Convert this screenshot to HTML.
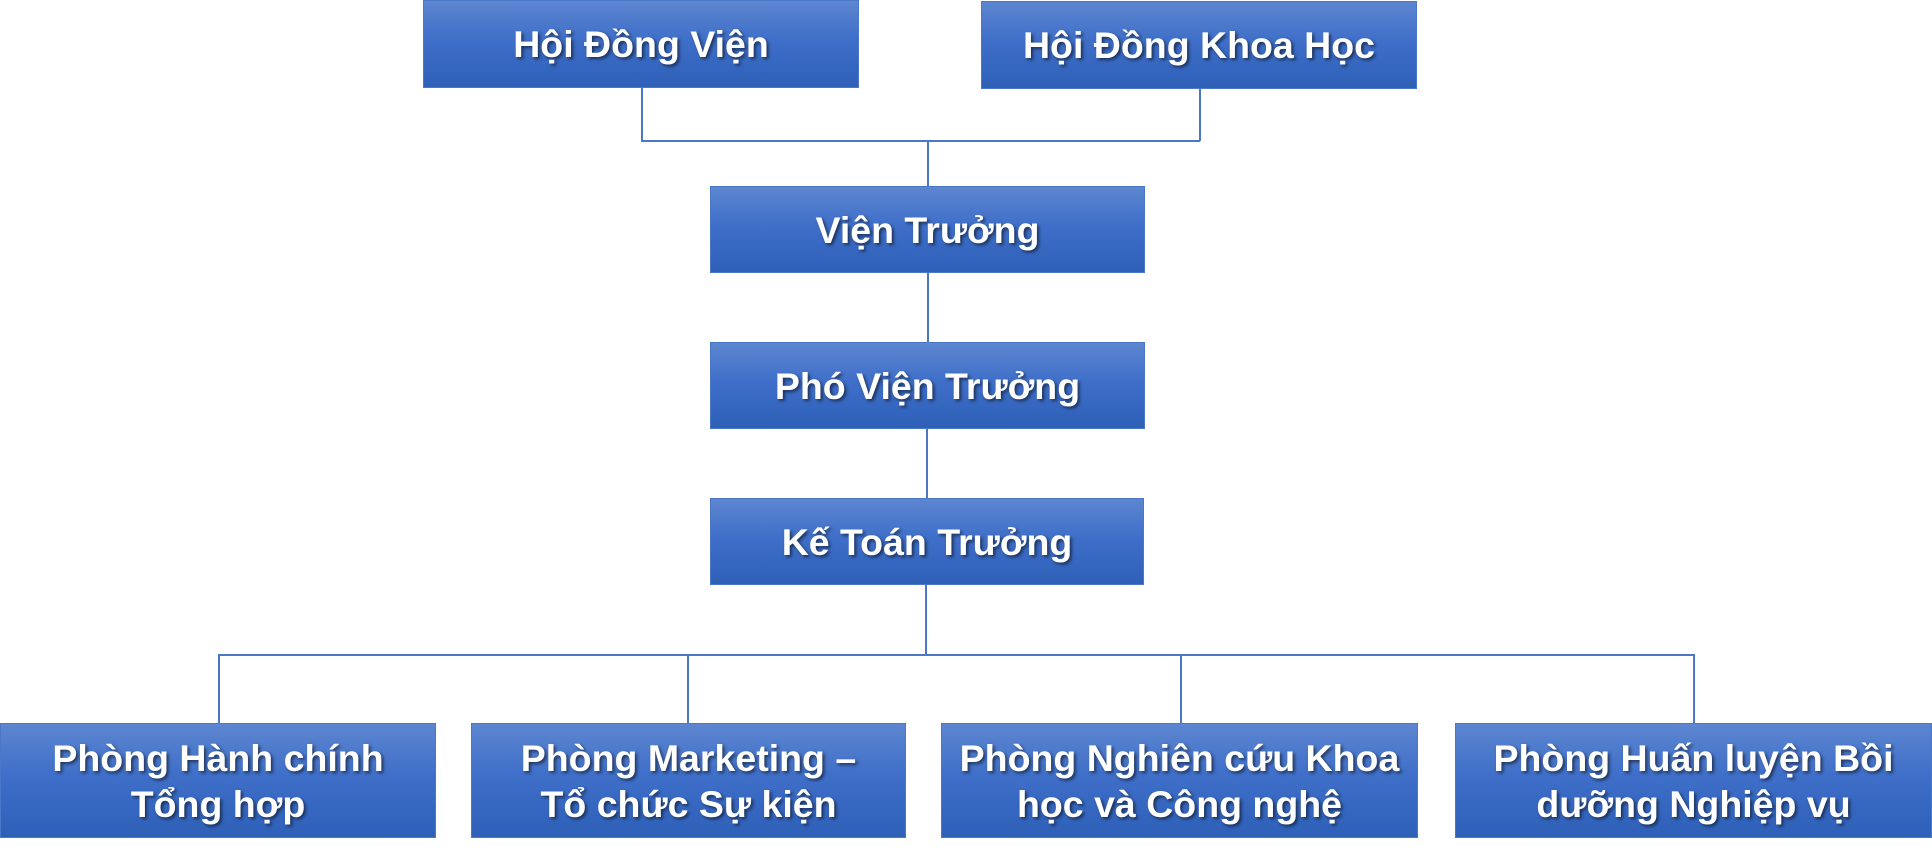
<!DOCTYPE html>
<html><head><meta charset="utf-8"><style>
body{margin:0;width:1932px;height:853px;background:#fff;position:relative;overflow:hidden;font-family:"Liberation Sans",Arial,sans-serif;}
.b{position:absolute;box-sizing:border-box;border:1.5px solid #4a77c8;background:linear-gradient(#5d86d0 0%,#3f6fc9 45%,#2e60b8 100%);color:#fff;font-weight:bold;font-size:37.5px;display:flex;align-items:center;justify-content:center;text-align:center;text-shadow:2px 2px 3px rgba(0,0,0,0.55);line-height:46px;}
.l{position:absolute;background:#4a77c8;}
</style></head><body>
<div class="l" style="left:641px;top:87px;width:1.5px;height:54px"></div>
<div class="l" style="left:1199px;top:89px;width:1.5px;height:52px"></div>
<div class="l" style="left:641px;top:140px;width:559px;height:1.5px"></div>
<div class="l" style="left:927px;top:140px;width:1.5px;height:46px"></div>
<div class="l" style="left:927px;top:272px;width:1.5px;height:70px"></div>
<div class="l" style="left:926px;top:429px;width:1.5px;height:70px"></div>
<div class="l" style="left:925px;top:585px;width:1.5px;height:70px"></div>
<div class="l" style="left:218px;top:654px;width:1476px;height:1.5px"></div>
<div class="l" style="left:218px;top:654px;width:1.5px;height:69px"></div>
<div class="l" style="left:687px;top:654px;width:1.5px;height:69px"></div>
<div class="l" style="left:1180px;top:654px;width:1.5px;height:69px"></div>
<div class="l" style="left:1693px;top:654px;width:1.5px;height:69px"></div>

<div class="b" style="left:423px;top:0;width:436px;height:88px">Hội Đồng Viện</div>
<div class="b" style="left:981px;top:1px;width:436px;height:88px">Hội Đồng Khoa Học</div>
<div class="b" style="left:710px;top:186px;width:435px;height:87px">Viện Trưởng</div>
<div class="b" style="left:710px;top:342px;width:435px;height:87px">Phó Viện Trưởng</div>
<div class="b" style="left:710px;top:498px;width:434px;height:87px">Kế Toán Trưởng</div>
<div class="b" style="left:0;top:723px;width:436px;height:115px">Phòng Hành chính<br>Tổng hợp</div>
<div class="b" style="left:471px;top:723px;width:435px;height:115px">Phòng Marketing –<br>Tổ chức Sự kiện</div>
<div class="b" style="left:941px;top:723px;width:477px;height:115px">Phòng Nghiên cứu Khoa<br>học và Công nghệ</div>
<div class="b" style="left:1455px;top:723px;width:477px;height:115px">Phòng Huấn luyện Bồi<br>dưỡng Nghiệp vụ</div>
</body></html>
